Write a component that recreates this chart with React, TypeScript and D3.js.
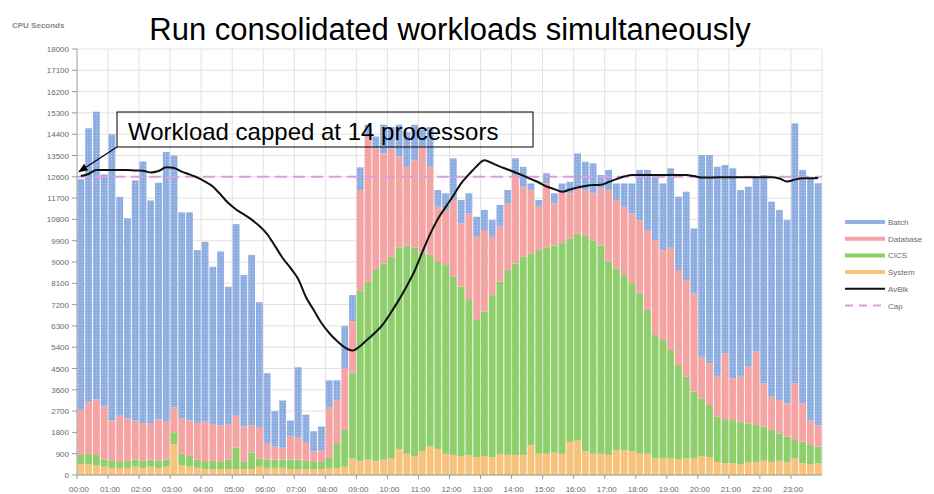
import React, { useRef, useEffect } from "react";
import * as d3 from "d3";

// 15-minute intervals, 96 bars, CPU seconds per interval
const hourLabels = [
  "00:00", "01:00", "02:00", "03:00", "04:00", "05:00", "06:00", "07:00",
  "08:00", "09:00", "10:00", "11:00", "12:00", "13:00", "14:00", "15:00",
  "16:00", "17:00", "18:00", "19:00", "20:00", "21:00", "22:00", "23:00",
];

const yTicks = [
  0, 900, 1800, 2700, 3600, 4500, 5400, 6300, 7200, 8100, 9000, 9900,
  10800, 11700, 12600, 13500, 14400, 15300, 16200, 17100, 18000,
];

const system = [
  450, 450, 400, 350, 300, 300, 300, 350, 300, 350, 300, 350,
  1300, 400, 350, 300, 250, 250, 250, 250, 250, 250, 250, 350,
  300, 300, 300, 250, 250, 250, 250, 250, 300, 300, 350, 700,
  600, 650, 600, 650, 700, 1100, 900, 800, 1000, 1200, 1100, 900,
  850, 800, 850, 750, 800, 750, 900, 850, 850, 850, 1250, 900,
  900, 950, 900, 1400, 1450, 1000, 900, 900, 850, 1050, 1050, 1000,
  900, 900, 700, 700, 700, 650, 700, 700, 800, 750, 550, 500,
  500, 450, 550, 550, 600, 550, 600, 550, 700, 500, 450, 500,
];

const cics = [
  400, 450, 450, 300, 300, 250, 300, 300, 300, 300, 300, 300,
  500, 500, 450, 350, 300, 350, 300, 400, 900, 300, 700, 350,
  350, 350, 350, 400, 400, 350, 300, 300, 450, 1050, 1550, 3600,
  7200, 7520, 8060, 8290, 8520, 8500, 8800, 8800, 8400, 8100, 7900, 7970,
  7530, 7160, 6540, 5800, 6100, 6850, 7270, 7810, 8090, 8370, 8110, 8600,
  8700, 8750, 8900, 8600, 8750, 9100, 9000, 8800, 8160, 7680, 7400, 7100,
  6780, 6070, 5215, 5000, 4580, 4000, 3450, 2820, 2440, 2210, 1910, 1820,
  1820, 1800, 1630, 1560, 1440, 1350, 1160, 1070, 780, 910, 820, 700,
];

const database = [
  1900, 2200, 2350, 2250, 1700, 1950, 1800, 1650, 1600, 1550, 1750, 1600,
  1050, 1500, 1500, 1550, 1700, 1550, 1550, 1500, 1350, 1500, 1150, 1300,
  700, 550, 500, 1000, 950, 750, 450, 500, 2100, 1800, 2600, 2200,
  4240, 6120, 5140, 4650, 4580, 3850, 3320, 3700, 4470, 3720, 2340, 2330,
  3240, 2670, 3660, 3520, 3450, 2470, 2320, 2820, 3735, 2960, 2680, 1840,
  2720, 1780, 2170, 1900, 1980, 1940, 2000, 2410, 3030, 2890, 2890, 2950,
  3090, 3380, 4015, 3800, 4320, 4010, 4090, 4160, 1760, 1760, 1690, 2820,
  1765, 1900, 2395, 3100, 1830, 1410, 1410, 1410, 2390, 1620, 1050, 900,
];

const batch = [
  9750, 11550, 12150, 9800, 12100, 9250, 8450, 10150, 11050, 9400, 10000, 11400,
  10650, 8700, 8800, 7300, 7600, 6650, 7350, 5800, 8100, 6400, 7200, 5300,
  2950, 1500, 2000, 650, 2950, 1200, 850, 1000, 1150, 850, 1800, 1100,
  960, 510, 500, 1210, 900, 1350, 1480, 1500, 730, 1680, 700, 700,
  1760, 990, 850, 840, 850, 700, 920, 560, 705, 840, 280, 280,
  430, 420, 350, 490, 1410, 1200, 1270, 565, 850, 700, 980, 1270,
  2120, 2540, 2670, 2820, 3360, 3100, 3730, 2740, 8520, 8800, 8870, 7960,
  8875, 7890, 7605, 7390, 8805, 8240, 8030, 7740, 10990, 9860, 10230, 10230,
];

// smoothed line
const avBlk = [
  12630, 12720, 12890, 12890, 12890, 12890, 12890, 12870, 12860, 12780, 12845, 13000,
  12970, 12820, 12700, 12570, 12400, 12190, 11850, 11490, 11220, 11010, 10790, 10520,
  10180, 9680, 9170, 8750, 8280, 7520, 6970, 6420, 6000, 5660, 5390, 5260,
  5450, 5750, 6040, 6400, 6890, 7410, 7990, 8620, 9420, 10180, 10820, 11320,
  11810, 12320, 12700, 13050, 13300, 13180, 13030, 12910, 12780, 12650, 12500, 12360,
  12190, 12080, 11970, 12060, 12150, 12210, 12250, 12260, 12380, 12500, 12610, 12680,
  12680, 12680, 12680, 12680, 12680, 12680, 12680, 12630, 12570, 12570, 12580, 12580,
  12580, 12580, 12580, 12580, 12580, 12580, 12530, 12400, 12480, 12540, 12540, 12550,
];

const capValue = 12600; // 14 processors x 900 s

const legendItems = [
  { label: "Batch", color: "#92b1e3", kind: "bar" },
  { label: "Database", color: "#f5a3a3", kind: "bar" },
  { label: "CICS", color: "#8ecf6c", kind: "bar" },
  { label: "System", color: "#f8c27a", kind: "bar" },
  { label: "AvBlk", color: "#111111", kind: "line" },
  { label: "Cap", color: "#d9a0dc", kind: "dash" },
];

const W = 934;
const H = 494;
const M = { left: 77, right: 822, top: 49, bottom: 475 };

export default function App() {
  const svgRef = useRef<SVGSVGElement>(null);

  useEffect(() => {
    const svg = d3.select(svgRef.current);
    svg.selectAll("*").remove();
    const font = "'Liberation Sans', Arial, sans-serif";

    const idx = d3.range(system.length);
    const x = d3
      .scaleBand<number>()
      .domain(idx)
      .range([M.left, M.right])
      .paddingInner(0.12)
      .paddingOuter(0.06);
    const xh = d3.scaleLinear().domain([0, 24]).range([M.left, M.right]);
    const y = d3.scaleLinear().domain([0, 18000]).range([M.bottom, M.top]);

    // texture for batch
    const defs = svg.append("defs");
    const pat = defs
      .append("pattern")
      .attr("id", "batchTex")
      .attr("width", 3)
      .attr("height", 3)
      .attr("patternUnits", "userSpaceOnUse");
    pat.append("rect").attr("width", 3).attr("height", 3).attr("fill", "#8dade1");
    pat.append("rect").attr("width", 1).attr("height", 1).attr("fill", "#b2c9ee");
    defs
      .append("marker")
      .attr("id", "arrow")
      .attr("viewBox", "0 0 10 10")
      .attr("refX", 9)
      .attr("refY", 5)
      .attr("markerWidth", 8)
      .attr("markerHeight", 8)
      .attr("orient", "auto")
      .append("path")
      .attr("d", "M0,1 L10,5 L0,9 z")
      .attr("fill", "#000");

    // grid
    const grid = svg.append("g");
    grid
      .selectAll("line.h")
      .data(yTicks)
      .enter()
      .append("line")
      .attr("x1", M.left)
      .attr("x2", M.right)
      .attr("y1", (d) => y(d))
      .attr("y2", (d) => y(d))
      .attr("stroke", "#e2e2e2");
    grid
      .selectAll("line.v")
      .data(d3.range(1, 25))
      .enter()
      .append("line")
      .attr("x1", (d) => xh(d))
      .attr("x2", (d) => xh(d))
      .attr("y1", M.top)
      .attr("y2", M.bottom)
      .attr("stroke", "#e2e2e2");

    // stacked bars
    const rows = idx.map((i) => ({
      i,
      system: system[i],
      cics: cics[i],
      database: database[i],
      batch: batch[i],
    }));
    const keys = ["system", "cics", "database", "batch"];
    const fills: Record<string, string> = {
      system: "#f8c27a",
      cics: "#8ecf6c",
      database: "#f5a3a3",
      batch: "url(#batchTex)",
    };
    const series = d3.stack<any>().keys(keys)(rows);
    series.forEach((s) => {
      svg
        .append("g")
        .selectAll("rect")
        .data(s)
        .enter()
        .append("rect")
        .attr("x", (d: any) => x(d.data.i) as number)
        .attr("width", x.bandwidth())
        .attr("y", (d: any) => y(d[1]))
        .attr("height", (d: any) => Math.max(0, y(d[0]) - y(d[1])))
        .attr("fill", fills[s.key]);
    });

    // cap line
    svg
      .append("line")
      .attr("x1", M.left)
      .attr("x2", M.right)
      .attr("y1", y(capValue))
      .attr("y2", y(capValue))
      .attr("stroke", "#d9a0dc")
      .attr("stroke-width", 2)
      .attr("stroke-dasharray", "12,6");

    // smoothed line
    const line = d3
      .line<number>()
      .x((i) => (x(i) as number) + x.bandwidth() / 2)
      .y((i) => y(avBlk[i]))
      .curve(d3.curveMonotoneX);
    svg
      .append("path")
      .datum(idx)
      .attr("fill", "none")
      .attr("stroke", "#111")
      .attr("stroke-width", 2)
      .attr("d", line);

    // axes
    const axisColor = "#9a9a9a";
    svg
      .append("line")
      .attr("x1", M.left)
      .attr("x2", M.left)
      .attr("y1", M.top)
      .attr("y2", M.bottom)
      .attr("stroke", axisColor);
    svg
      .append("line")
      .attr("x1", M.left)
      .attr("x2", M.right)
      .attr("y1", M.bottom)
      .attr("y2", M.bottom)
      .attr("stroke", axisColor);

    const yt = svg.append("g");
    yTicks.forEach((t) => {
      yt.append("line")
        .attr("x1", M.left - 5)
        .attr("x2", M.left)
        .attr("y1", y(t))
        .attr("y2", y(t))
        .attr("stroke", axisColor);
      yt.append("text")
        .attr("x", M.left - 8)
        .attr("y", y(t) + 3)
        .attr("text-anchor", "end")
        .attr("font-family", font)
        .attr("font-size", 8)
        .attr("fill", "#6a6a6a")
        .text(t);
    });

    const xt = svg.append("g");
    hourLabels.forEach((lab, h) => {
      xt.append("line")
        .attr("x1", xh(h))
        .attr("x2", xh(h))
        .attr("y1", M.bottom)
        .attr("y2", M.bottom + 4)
        .attr("stroke", axisColor);
      xt.append("text")
        .attr("x", xh(h) + 2)
        .attr("y", 492)
        .attr("text-anchor", "middle")
        .attr("font-family", font)
        .attr("font-size", 8)
        .attr("fill", "#6a6a6a")
        .text(lab);
    });

    svg
      .append("text")
      .attr("x", 12)
      .attr("y", 28)
      .attr("font-family", font)
      .attr("font-size", 8)
      .attr("font-weight", "bold")
      .attr("fill", "#888")
      .text("CPU Seconds");

    // title
    svg
      .append("text")
      .attr("x", 450)
      .attr("y", 40)
      .attr("text-anchor", "middle")
      .attr("font-family", font)
      .attr("font-size", 31)
      .attr("fill", "#000")
      .text("Run consolidated workloads simultaneously");

    // annotation
    svg
      .append("rect")
      .attr("x", 117)
      .attr("y", 112)
      .attr("width", 416)
      .attr("height", 35)
      .attr("fill", "none")
      .attr("stroke", "#000")
      .attr("stroke-width", 1);
    svg
      .append("text")
      .attr("x", 128)
      .attr("y", 140)
      .attr("font-family", font)
      .attr("font-size", 24)
      .attr("fill", "#000")
      .text("Workload capped at 14 processors");
    svg
      .append("line")
      .attr("x1", 117)
      .attr("y1", 147)
      .attr("x2", M.left + 2)
      .attr("y2", y(capValue) - 5)
      .attr("stroke", "#000")
      .attr("stroke-width", 1.2)
      .attr("marker-end", "url(#arrow)");

    // legend
    const lg = svg.append("g");
    legendItems.forEach((item, k) => {
      const ly = 222 + k * 16.7;
      lg.append("line")
        .attr("x1", 845)
        .attr("x2", 885)
        .attr("y1", ly)
        .attr("y2", ly)
        .attr("stroke", item.color)
        .attr("stroke-width", item.kind === "bar" ? 4 : 2)
        .attr("stroke-dasharray", item.kind === "dash" ? "8,6" : null);
      lg.append("text")
        .attr("x", 888)
        .attr("y", ly + 3)
        .attr("font-family", font)
        .attr("font-size", 8)
        .attr("fill", "#6a6a6a")
        .text(item.label);
    });
  }, []);

  return (
    <svg
      ref={svgRef}
      width={W}
      height={H}
      style={{ position: "absolute", left: 0, top: 0, background: "#fff" }}
    />
  );
}
